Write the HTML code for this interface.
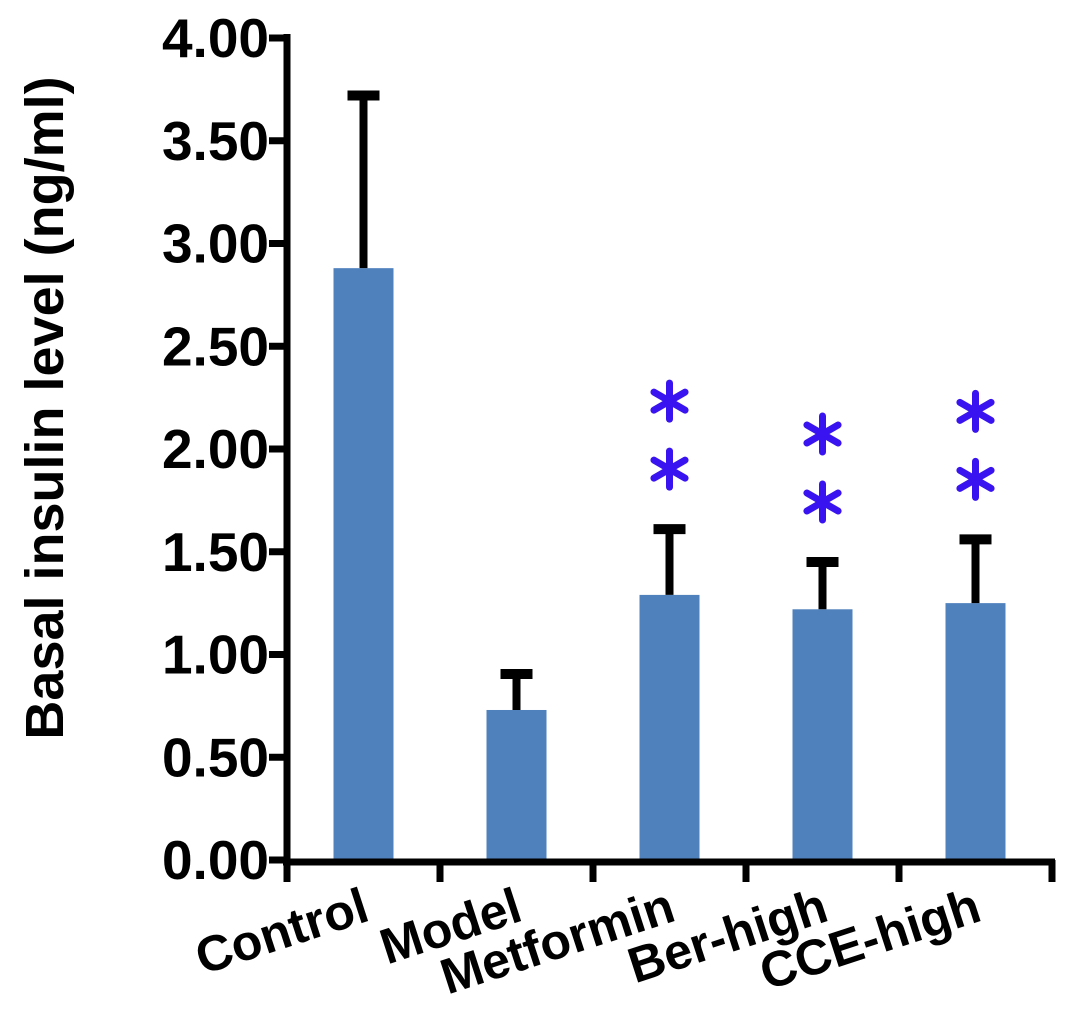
<!DOCTYPE html>
<html><head><meta charset="utf-8"><style>
html,body{margin:0;padding:0;background:#fff;}
svg{display:block;font-family:"Liberation Sans",Arial,sans-serif;font-weight:bold;}
</style></head><body>
<svg id="chart" width="1087" height="1035" viewBox="0 0 1087 1035" xmlns="http://www.w3.org/2000/svg"></svg>
<script>
const categories=["Control","Model","Metformin","Ber-high","CCE-high"];
const means=[2.88,0.73,1.29,1.22,1.25];
const errors=[0.84,0.175,0.32,0.23,0.31];
const starFlags=[false,false,true,true,true];
const starTops=[0,0,2.34,2.18,2.29];
const yTicks=[0,0.5,1,1.5,2,2.5,3,3.5,4];
const yTickLabels=["0.00","0.50","1.00","1.50","2.00","2.50","3.00","3.50","4.00"];

const NS="http://www.w3.org/2000/svg";
const svg=document.getElementById('chart');
const x0=287,xEnd=1052,y0=860,yTop=38;
const band=(xEnd-x0)/categories.length;
function y(v){return y0-(v/4)*(y0-yTop);}
function xc(i){return x0+band*(i+0.5);}
function mk(tag,attrs,parent){const e=document.createElementNS(NS,tag);for(const k in attrs)e.setAttribute(k,attrs[k]);(parent||svg).appendChild(e);return e;}

categories.forEach((c,i)=>{
  const w=60,cx=xc(i);
  const r=mk('rect',{x:cx-w/2,y:y(means[i]),width:w,height:y0-y(means[i]),fill:'#4f81bd'});
  
  
  const g=mk('g',{stroke:'#000','stroke-width':8});
  
  
  mk('line',{x1:cx,x2:cx,y1:y(means[i]),y2:y(means[i]+errors[i])},g);
  mk('line',{x1:cx-16,x2:cx+16,y1:y(means[i]+errors[i]),y2:y(means[i]+errors[i]),'stroke-width':10},g);
  if(starFlags[i]){
    const sg=mk('g',{stroke:'#3a14f0','stroke-width':7,'stroke-linecap':'round'});
    
    
    const top=y(starTops[i]);
    [top+22,top+90].forEach(cy=>{
      for(let a=0;a<3;a++){const ang=Math.PI/2+a*Math.PI/3;const dx=Math.cos(ang)*18,dy=Math.sin(ang)*18;
        mk('line',{x1:cx-dx,y1:cy-dy,x2:cx+dx,y2:cy+dy},sg);}
    });
  }
  const t=mk('text',{x:0,y:0,'font-size':50,'text-anchor':'end',transform:`translate(${cx+8},${y0+60}) rotate(-18)`});
  t.textContent=c;
  
  
});

const ax=mk('g',{stroke:'#000','stroke-width':7});


mk('line',{x1:x0,x2:x0,y1:yTop-4,y2:y0+22},ax);
mk('line',{x1:x0-4,x2:xEnd+3,y1:y0+2,y2:y0+2},ax);
for(let i=1;i<=categories.length;i++){mk('line',{x1:x0+band*i,x2:x0+band*i,y1:y0,y2:y0+22},ax);}
yTicks.forEach((v,i)=>{
  mk('line',{x1:x0-18,x2:x0,y1:y(v),y2:y(v)},ax);
  const t=mk('text',{x:x0-18,y:y(v)+19,'font-size':55,'text-anchor':'end'});
  t.textContent=yTickLabels[i];
  
  
});
const yl=mk('text',{x:0,y:0,'font-size':54,'text-anchor':'middle',transform:'translate(63,408) rotate(-90)'});
yl.textContent='Basal insulin level (ng/ml)';


</script>
</body></html>
